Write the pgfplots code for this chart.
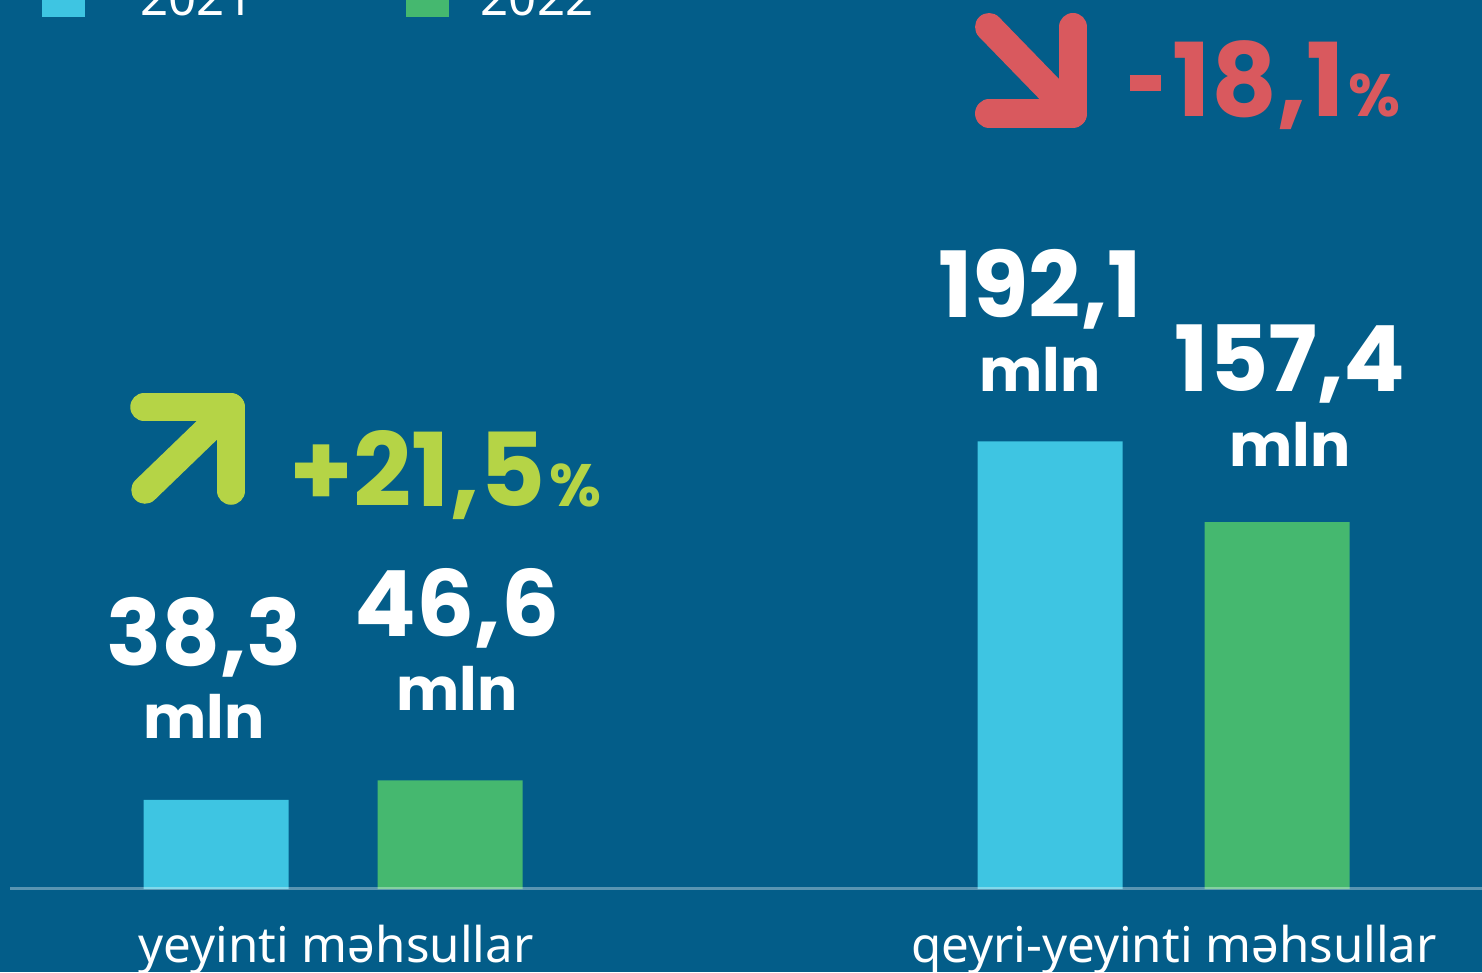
\documentclass[border=0pt]{standalone}
\usepackage{pgfplots}
\pgfplotsset{compat=1.18}
\usepackage{fontspec}
\setmainfont{Noto Sans}
\newfontfamily\numfont{Poppins}
\definecolor{bg}{HTML}{035D89}
\definecolor{cyanbar}{HTML}{3EC5E2}
\definecolor{greenbar}{HTML}{45B86F}
\definecolor{redc}{HTML}{D9595E}
\definecolor{limec}{HTML}{B5D446}
\begin{document}
\begin{tikzpicture}
\fill[bg] (0,0) rectangle (14.82cm,9.72cm);
\begin{axis}[at={(0,0)}, anchor=south west, scale only axis,
  width=14.82cm, height=9.72cm,
  xmin=0, xmax=1482, ymin=-35.6, ymax=381.5,
  axis lines=none, ybar, bar width=14.5mm, bar shift=0pt, clip=false]
\addplot[fill=cyanbar, draw=none] coordinates {(216,38.3) (1050,192.1)};
\addplot[fill=greenbar, draw=none] coordinates {(450,46.6) (1277,157.4)};
\end{axis}
\begin{scope}[x=0.1mm, y=-0.1mm, shift={(0,9.72cm)}]
% baseline
\draw[white, opacity=0.35, line width=0.3mm] (10,888.5) -- (1482,888.5);
% legend
\fill[cyanbar] (42,-26) rectangle (85,17);
\fill[greenbar] (406,-26) rectangle (449,17);
\node[anchor=base west, inner sep=0, text=white, font=\fontsize{14}{14}\selectfont] at (140,16) {2021};
\node[anchor=base west, inner sep=0, text=white, font=\fontsize{14}{14}\selectfont] at (480,16) {2022};
% category labels
\node[anchor=base, inner sep=0, text=white, font=\fontsize{14}{14}\selectfont] at (336,962) {yeyinti məhsullar};
\node[anchor=base, inner sep=0, text=white, font=\fontsize{14}{14}\selectfont] at (1174,962) {qeyri-yeyinti məhsullar};
% value labels
\tikzset{val/.style={anchor=base, inner sep=0, text=white, font=\numfont\bfseries\fontsize{26}{26}\selectfont},
         unit/.style={anchor=base, inner sep=0, text=white, font=\numfont\bfseries\fontsize{17}{17}\selectfont}}
\node[val] at (204,665) {38,3};  \node[unit] at (204,738) {mln};
\node[val] at (457,636) {46,6};  \node[unit] at (457,710) {mln};
\node[val] at (1040,317) {192,1}; \node[unit] at (1040,391) {mln};
\node[val] at (1290,391) {157,4}; \node[unit] at (1290,466) {mln};
% arrows
\draw[limec, line width=2.75mm, line cap=round, line join=round] (145,490) -- (231,407);
\draw[limec, line width=2.75mm, line cap=round, line join=round] (144,407) -- (231,407) -- (231,491);
\draw[redc, line width=2.8mm, line cap=round, line join=round] (989,27) -- (1073,113.5);
\draw[redc, line width=2.8mm, line cap=round, line join=round] (1073,27) -- (1073,113.5) -- (989,113.5);
% percentages
\node[anchor=base west, inner sep=0, text=limec, font=\numfont\bfseries\fontsize{29}{29}\selectfont] at (289,506) {+21,5\kern1pt{\fontsize{17}{17}\selectfont\%}};
\node[anchor=base west, inner sep=0, text=redc, font=\numfont\bfseries\fontsize{29}{29}\selectfont] at (1129,116) {\rule[2.5mm]{3.1mm}{1.6mm}\kern1.2mm 18,1\kern1pt{\fontsize{17}{17}\selectfont\%}};
\end{scope}
\pgfresetboundingbox
\path (0,0) rectangle (14.82cm,9.72cm);
\end{tikzpicture}
\end{document}
